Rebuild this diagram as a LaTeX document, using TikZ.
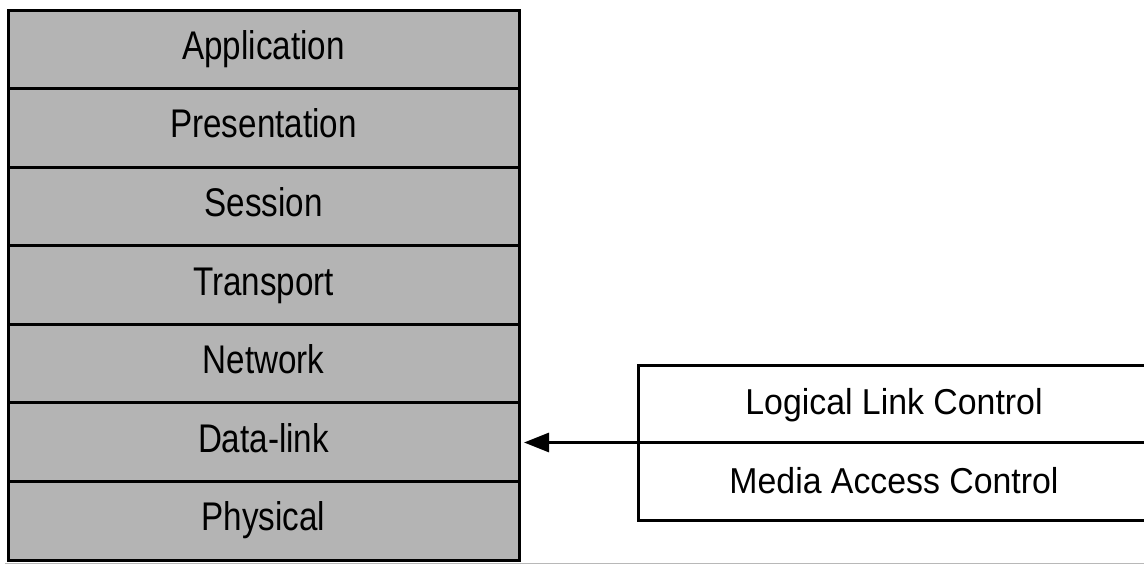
\documentclass[tikz,border=0pt]{standalone}
\usepackage{fontspec}
\setmainfont{Liberation Sans}
\newfontfamily\stackfont[FakeStretch=0.83]{Liberation Sans}
\newfontfamily\boxfont[FakeStretch=0.94]{Liberation Sans}
\usetikzlibrary{arrows.meta,calc}
\definecolor{layergray}{RGB}{180,180,180}
\begin{document}
\begin{tikzpicture}[x=1pt,y=-1pt,
  layer/.style={draw=black, fill=layergray, line width=3pt, minimum width=511pt,
    minimum height=78.57pt, inner sep=0pt, outer sep=0pt,
    font=\stackfont\fontsize{40}{48}\selectfont, text height=30pt, text depth=10pt},
  sublabel/.style={inner sep=0pt, font=\boxfont\fontsize{36}{43}\selectfont,
    text height=26pt, text depth=8pt},
  subbox/.style={draw=black, line width=3pt, minimum width=512pt, minimum height=155pt,
    inner sep=0pt, outer sep=0pt},
  pointer/.style={line width=3pt, -{Triangle[length=25pt,width=19pt]}, shorten >=5pt}]
\useasboundingbox (0,0) rectangle (1144,565);
\draw[black!28, line width=1pt] (5,563) -- (1144,563);
\node[layer] (app) at (263.5,49.29) {Application};
\node[layer] (pre) at (263.5,127.86) {Presentation};
\node[layer] (ses) at (263.5,206.43) {Session};
\node[layer] (tra) at (263.5,285.00) {Transport};
\node[layer] (net) at (263.5,363.57) {Network};
\node[layer] (dl)  at (263.5,442.14) {Data-link};
\node[layer] (phy) at (263.5,520.71) {Physical};
\node[subbox] (mac) at (894,442.5) {};
\node[sublabel] (llc) at (894,405) {Logical Link Control};
\node[sublabel] (mactext) at (894,484) {Media Access Control};
\draw[pointer] (mac.east) -- (mac.east -| dl.east);
\end{tikzpicture}
\end{document}
